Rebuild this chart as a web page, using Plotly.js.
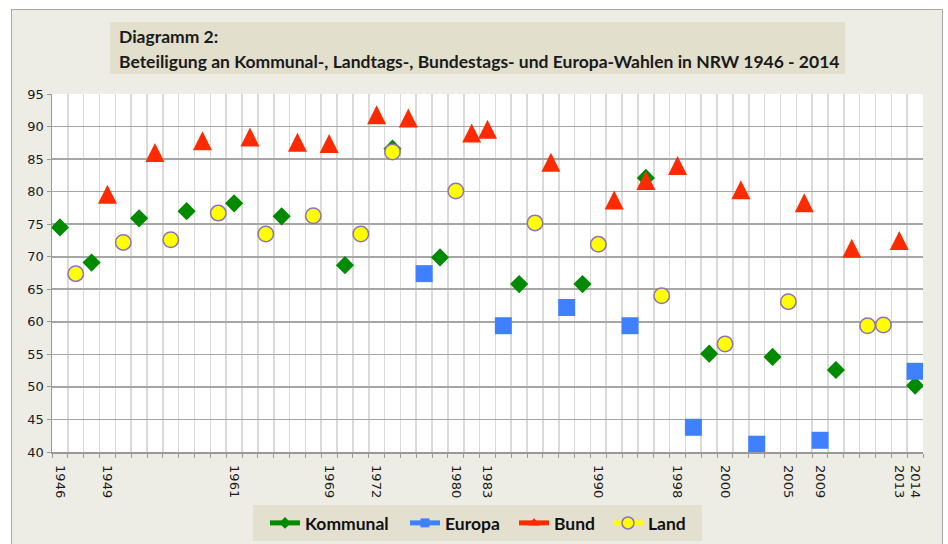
<!DOCTYPE html>
<html>
<head>
<meta charset="utf-8">
<script src="https://cdn.plot.ly/plotly-3.0.1.min.js"></script>
<style>
  html, body { margin: 0; padding: 0; background: #ffffff; width: 948px; height: 544px; overflow: hidden; }
  #frame { position: absolute; left: 11px; top: 9px; width: 932px; height: 535px; box-sizing: border-box;
           border-left: 1px solid #a8a8a8; border-top: 1px solid #a8a8a8; border-right: 1px solid #a8a8a8; background: #eeede5; }
  #chart { width: 930px; height: 534px; }
</style>
</head>
<body>
<div id="frame"><div id="chart"></div></div>
<script>
// Each election date in chronological order (one x slot per date)
const eventYears = [
  "1946","1947","1948","1949","1950","1952","1953","1954","1956","1957",
  "1958","1961","1961","1962","1964","1965","1966","1969","1969","1970",
  "1972","1975","1976","1979","1979","1980","1980","1983","1984","1984",
  "1985","1987","1989","1989","1990","1990","1994","1994","1995","1998",
  "1999","1999","2000","2002","2004","2004","2005","2005","2009","2009",
  "2009","2010","2012","2013","2014"
];
const _ = null;
// Turnout in percent, aligned with eventYears
const kommunal = [
  74.5,_,69.1,_,_,75.9,_,_,77.0,_,
  _,78.2,_,_,76.2,_,_,_,68.7,_,
  _,86.6,_,_,69.9,_,_,_,_,65.8,
  _,_,_,65.8,_,_,_,82.1,_,_,
  _,55.1,_,_,_,54.6,_,_,_,52.6,
  _,_,_,_,50.2
];
const europa = [
  _,_,_,_,_,_,_,_,_,_,
  _,_,_,_,_,_,_,_,_,_,
  _,_,_,67.4,_,_,_,_,59.4,_,
  _,_,62.2,_,_,_,59.4,_,_,_,
  43.8,_,_,_,41.2,_,_,_,41.8,_,
  _,_,_,_,52.4
];
const bund = [
  _,_,_,79.6,_,_,86.0,_,_,87.8,
  _,_,88.4,_,_,87.6,_,87.4,_,_,
  91.8,_,91.3,_,_,_,89.0,89.6,_,_,
  _,84.5,_,_,_,78.7,_,81.7,_,84.0,
  _,_,_,80.3,_,_,_,78.3,_,_,
  71.3,_,_,72.5,_
];
const land = [
  _,67.4,_,_,72.2,_,_,72.6,_,_,
  76.7,_,_,73.5,_,_,76.3,_,_,73.5,
  _,86.1,_,_,_,80.1,_,_,_,_,
  75.2,_,_,_,71.9,_,_,_,64.0,_,
  _,_,56.6,_,_,_,63.1,_,_,_,
  _,59.4,59.5,_,_
];
const tickLabels = ["1946","1949","1961","1969","1972","1980","1983","1990","1998","2000","2005","2009","2013","2014"];
const seriesNames = ["Kommunal","Europa","Bund","Land"];

const idx = eventYears.map((_, i) => i);
const tickPos = tickLabels.map(t => eventYears.indexOf(t));

const styles = [
  {symbol: "diamond", size: 14, color: "#008a00", line: {width: 0}},
  {symbol: "square", size: 17, color: "#3f80ff", line: {width: 0}},
  {symbol: "arrow-down", angle: 180, size: 19, standoff: 9.5, color: "#ff2a00", line: {width: 0}},
  {symbol: "circle", size: 15.5, color: "#ffff00", line: {width: 1.5, color: "#8e73b4"}}
];
const legendMarkers = [
  {symbol: "diamond", size: 9, color: "#008a00", line: {width: 0}},
  {symbol: "square", size: 9, color: "#3f80ff", line: {width: 0}},
  {symbol: "triangle-up", size: 10, color: "#ff2a00", line: {width: 0}},
  {symbol: "circle", size: 12, color: "#ffff00", line: {width: 1.5, color: "#8e73b4"}}
];
const lineColors = ["#008a00", "#3f80ff", "#ff2a00", "#ffff00"];
const data = [kommunal, europa, bund, land];
const legendIds = ["legend", "legend2", "legend3", "legend4"];

const traces = [];
data.forEach((ys, k) => {
  traces.push({
    type: "scatter", mode: "markers", x: idx, y: ys, name: seriesNames[k],
    showlegend: false, marker: styles[k], hoverinfo: "x+y"
  });
});
data.forEach((ys, k) => {
  traces.push({
    type: "scatter", mode: "lines+markers", x: [null], y: [null], name: seriesNames[k],
    showlegend: true, legend: legendIds[k], line: {color: lineColors[k], width: 5},
    marker: legendMarkers[k]
  });
});

// plot area in div coords: left 40, right 911, top 84, bottom 442
const px = v => (v - 40) / 871;
const py = v => (442 - v) / 358;

const legendFont = {family: "Lato, sans-serif", size: 17.5, color: "#111111", weight: "bold"};
const legendStarts = [258, 398, 507, 601]; // line start (div coords)
function legendAt(x0) {
  return {orientation: "h", x: px(x0 - 5), y: py(513), xanchor: "left", yanchor: "middle",
          bgcolor: "rgba(0,0,0,0)", borderwidth: 0, font: legendFont, itemwidth: 30};
}

const layout = {
  width: 930, height: 534,
  margin: {l: 40, r: 19, t: 84, b: 92, autoexpand: false},
  paper_bgcolor: "#eeede5",
  plot_bgcolor: "#ffffff",
  font: {family: "DejaVu Sans, sans-serif", color: "#222222"},
  xaxis: {
    range: [-0.5, 54.5], fixedrange: true, zeroline: false,
    tickmode: "array", tickvals: tickPos, ticktext: tickLabels,
    tickangle: 90, ticks: "", showgrid: false, ticklabelstandoff: 9,
    tickfont: {size: 13, color: "#1a1a1a"},
    showline: true, linecolor: "#999999", linewidth: 1.5,
    minor: {tickmode: "linear", tick0: -0.5, dtick: 1, showgrid: true,
            gridcolor: "#dadada", gridwidth: 1.6, ticks: "outside", ticklen: 4,
            tickcolor: "#999999", tickwidth: 1}
  },
  yaxis: {
    range: [40, 95], dtick: 5, fixedrange: true, zeroline: false,
    showgrid: true, gridcolor: "#a6a6a6", gridwidth: 1.6,
    ticks: "outside", ticklen: 4, tickcolor: "#999999",
    tickfont: {size: 13, color: "#1a1a1a"},
    showline: true, linecolor: "#999999", linewidth: 1.5
  },
  shapes: [
    {type: "rect", xref: "paper", yref: "paper", x0: px(98), x1: px(833), y0: py(64), y1: py(12),
     fillcolor: "#e2dfcd", line: {width: 0}, layer: "below"},
    {type: "rect", xref: "paper", yref: "paper", x0: px(241), x1: px(690), y0: py(531), y1: py(495),
     fillcolor: "#e3e0d0", line: {width: 0}, layer: "below"}
  ],
  annotations: [
    {xref: "paper", yref: "paper", x: px(105), y: py(27), xanchor: "left", yanchor: "middle",
     text: "<b>Diagramm 2:</b>", showarrow: false,
     font: {family: "Lato, sans-serif", size: 17.5, color: "#1a1a1a"}},
    {xref: "paper", yref: "paper", x: px(105), y: py(51), xanchor: "left", yanchor: "middle",
     text: "<b>Beteiligung an Kommunal-, Landtags-, Bundestags- und Europa-Wahlen in NRW 1946 - 2014</b>",
     showarrow: false, font: {family: "Lato, sans-serif", size: 17.5, color: "#1a1a1a"}}
  ],
  legend: legendAt(legendStarts[0]),
  legend2: legendAt(legendStarts[1]),
  legend3: legendAt(legendStarts[2]),
  legend4: legendAt(legendStarts[3]),
  showlegend: true
};

Plotly.newPlot("chart", traces, layout, {displayModeBar: false, staticPlot: true});
</script>
</body>
</html>
